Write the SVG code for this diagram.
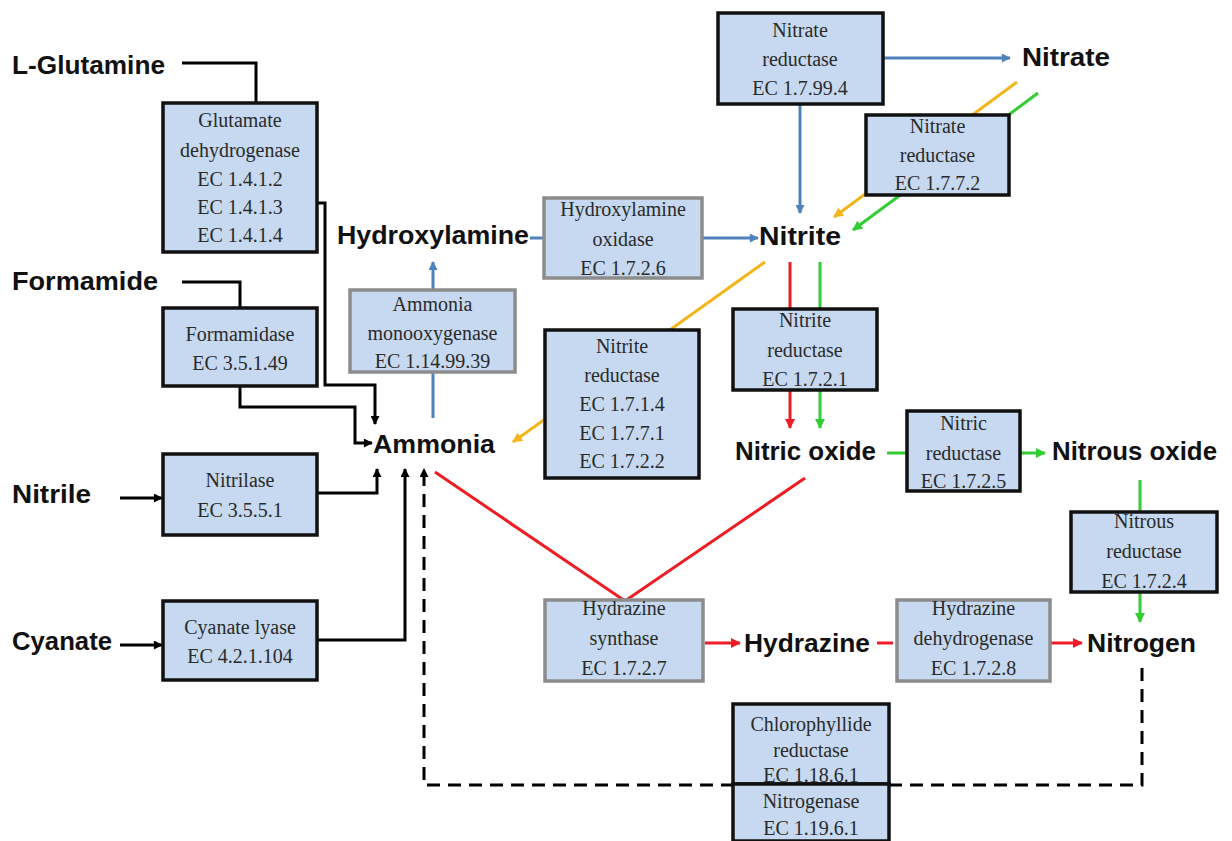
<svg xmlns="http://www.w3.org/2000/svg" width="1232" height="841" viewBox="0 0 1232 841">
<style>
.lbl{font-family:"Liberation Sans",Arial,sans-serif;font-weight:bold;font-size:26px;fill:#111;}
.bt{font-family:"Liberation Serif","Times New Roman",serif;font-size:20px;fill:#2a2a2a;text-anchor:middle;}
.bx{fill:#c6d9f0;stroke:#111;stroke-width:3.5;}
.gx{fill:#c6d9f0;stroke:#8c8c8c;stroke-width:3.5;}
.k{fill:none;stroke:#000;stroke-width:3;}
.kd{fill:none;stroke:#000;stroke-width:3;stroke-dasharray:13 8;}
.b{fill:none;stroke:#4f81bd;stroke-width:3;}
.y{fill:none;stroke:#f2b51c;stroke-width:3;}
.g{fill:none;stroke:#33cc33;stroke-width:3;}
.r{fill:none;stroke:#ee1c24;stroke-width:3;}
</style>
<defs>
<marker id="ak" viewBox="0 0 10 10" refX="9" refY="5" markerWidth="11" markerHeight="9" markerUnits="userSpaceOnUse" orient="auto"><path d="M0,0 L10,5 L0,10 z" fill="#000"/></marker>
<marker id="ab" viewBox="0 0 10 10" refX="9" refY="5" markerWidth="11" markerHeight="9" markerUnits="userSpaceOnUse" orient="auto"><path d="M0,0 L10,5 L0,10 z" fill="#4f81bd"/></marker>
<marker id="ay" viewBox="0 0 10 10" refX="9" refY="5" markerWidth="12" markerHeight="10" markerUnits="userSpaceOnUse" orient="auto"><path d="M0,0 L10,5 L0,10 z" fill="#f2b51c"/></marker>
<marker id="ag" viewBox="0 0 10 10" refX="9" refY="5" markerWidth="12" markerHeight="10" markerUnits="userSpaceOnUse" orient="auto"><path d="M0,0 L10,5 L0,10 z" fill="#33cc33"/></marker>
<marker id="ar" viewBox="0 0 10 10" refX="9" refY="5" markerWidth="12" markerHeight="10" markerUnits="userSpaceOnUse" orient="auto"><path d="M0,0 L10,5 L0,10 z" fill="#ee1c24"/></marker>
</defs>
<rect x="0" y="0" width="1232" height="841" fill="#fff"/>

<g id="connectors">
<path class="k" d="M182,63 H256 V103"/>
<path class="k" d="M317,203 H325 V385 H375 V424" marker-end="url(#ak)"/>
<path class="k" d="M182,282 H240 V308"/>
<path class="k" d="M240,386 V407 H355 V443 H372" marker-end="url(#ak)"/>
<path class="k" d="M120,498 H162" marker-end="url(#ak)"/>
<path class="k" d="M317,493 H377 V469" marker-end="url(#ak)"/>
<path class="k" d="M120,645 H162" marker-end="url(#ak)"/>
<path class="k" d="M317,640 H405 V469" marker-end="url(#ak)"/>
<path class="kd" d="M1142,668 V785 H424 V469" marker-end="url(#ak)"/>
<path class="b" d="M883,58 H1010" marker-end="url(#ab)"/>
<path class="b" d="M800,104 V213" marker-end="url(#ab)"/>
<path class="b" d="M530,238 H544"/>
<path class="b" d="M702,238 H758" marker-end="url(#ab)"/>
<path class="b" d="M433,418 V262" marker-end="url(#ab)"/>
<path class="y" d="M1017,82 L834,217" marker-end="url(#ay)"/>
<path class="y" d="M765,262 L513,442" marker-end="url(#ay)"/>
<path class="g" d="M1038,93 L853,230" marker-end="url(#ag)"/>
<path class="g" d="M820,262 V428" marker-end="url(#ag)"/>
<path class="g" d="M887,453 H907"/>
<path class="g" d="M1020,453 H1045" marker-end="url(#ag)"/>
<path class="g" d="M1140,480 V622" marker-end="url(#ag)"/>
<path class="r" d="M790,262 V428" marker-end="url(#ar)"/>
<path class="r" d="M435,472 L625,601 L805,478"/>
<path class="r" d="M705,643 H740" marker-end="url(#ar)"/>
<path class="r" d="M877,643 H893"/>
<path class="r" d="M1050,643 H1082" marker-end="url(#ar)"/>
</g>

<g id="n-lglutamine"><text class="lbl" x="12" y="74" textLength="153" lengthAdjust="spacingAndGlyphs">L-Glutamine</text></g>
<g id="n-formamide"><text class="lbl" x="12" y="290" textLength="146" lengthAdjust="spacingAndGlyphs">Formamide</text></g>
<g id="n-nitrile"><text class="lbl" x="12" y="503" textLength="79" lengthAdjust="spacingAndGlyphs">Nitrile</text></g>
<g id="n-cyanate"><text class="lbl" x="12" y="650" textLength="100" lengthAdjust="spacingAndGlyphs">Cyanate</text></g>
<g id="n-hydroxylamine"><text class="lbl" x="337" y="244" textLength="192" lengthAdjust="spacingAndGlyphs">Hydroxylamine</text></g>
<g id="n-ammonia"><text class="lbl" x="373" y="453" textLength="122" lengthAdjust="spacingAndGlyphs">Ammonia</text></g>
<g id="n-nitrite"><text class="lbl" x="759" y="245" textLength="82" lengthAdjust="spacingAndGlyphs">Nitrite</text></g>
<g id="n-nitrate"><text class="lbl" x="1022" y="66" textLength="88" lengthAdjust="spacingAndGlyphs">Nitrate</text></g>
<g id="n-nitricoxide"><text class="lbl" x="735" y="460" textLength="141" lengthAdjust="spacingAndGlyphs">Nitric oxide</text></g>
<g id="n-nitrousoxide"><text class="lbl" x="1052" y="460" textLength="165" lengthAdjust="spacingAndGlyphs">Nitrous oxide</text></g>
<g id="n-hydrazine"><text class="lbl" x="744" y="652" textLength="126" lengthAdjust="spacingAndGlyphs">Hydrazine</text></g>
<g id="n-nitrogen"><text class="lbl" x="1087" y="652" textLength="109" lengthAdjust="spacingAndGlyphs">Nitrogen</text></g>

<g id="e-glutamate-dehydrogenase"><rect class="bx" x="163" y="103" width="154" height="149"/>
<text class="bt" x="240" y="127">Glutamate</text><text class="bt" x="240" y="157">dehydrogenase</text><text class="bt" x="240" y="186">EC 1.4.1.2</text><text class="bt" x="240" y="214">EC 1.4.1.3</text><text class="bt" x="240" y="242">EC 1.4.1.4</text></g>
<g id="e-formamidase"><rect class="bx" x="163" y="308" width="154" height="78"/>
<text class="bt" x="240" y="341">Formamidase</text><text class="bt" x="240" y="370">EC 3.5.1.49</text></g>
<g id="e-nitrilase"><rect class="bx" x="163" y="454" width="154" height="81"/>
<text class="bt" x="240" y="487">Nitrilase</text><text class="bt" x="240" y="517">EC 3.5.5.1</text></g>
<g id="e-cyanate-lyase"><rect class="bx" x="163" y="601" width="154" height="79"/>
<text class="bt" x="240" y="634">Cyanate lyase</text><text class="bt" x="240" y="663">EC 4.2.1.104</text></g>
<g id="e-ammonia-monooxygenase"><rect class="gx" x="350" y="290" width="165" height="82"/>
<text class="bt" x="432.5" y="311">Ammonia</text><text class="bt" x="432.5" y="340">monooxygenase</text><text class="bt" x="432.5" y="368">EC 1.14.99.39</text></g>
<g id="e-hydroxylamine-oxidase"><rect class="gx" x="544" y="198" width="158" height="80"/>
<text class="bt" x="623" y="216">Hydroxylamine</text><text class="bt" x="623" y="246">oxidase</text><text class="bt" x="623" y="275">EC 1.7.2.6</text></g>
<g id="e-nitrite-reductase-a"><rect class="bx" x="545" y="330" width="154" height="148"/>
<text class="bt" x="622" y="353">Nitrite</text><text class="bt" x="622" y="382">reductase</text><text class="bt" x="622" y="411">EC 1.7.1.4</text><text class="bt" x="622" y="440">EC 1.7.7.1</text><text class="bt" x="622" y="468">EC 1.7.2.2</text></g>
<g id="e-nitrate-reductase-a"><rect class="bx" x="718" y="13" width="165" height="91"/>
<text class="bt" x="800" y="37">Nitrate</text><text class="bt" x="800" y="66">reductase</text><text class="bt" x="800" y="95">EC 1.7.99.4</text></g>
<g id="e-nitrate-reductase-b"><rect class="bx" x="866" y="115" width="143" height="80"/>
<text class="bt" x="937.5" y="133">Nitrate</text><text class="bt" x="937.5" y="162">reductase</text><text class="bt" x="937.5" y="190">EC 1.7.7.2</text></g>
<g id="e-nitrite-reductase-b"><rect class="bx" x="733" y="309" width="144" height="81"/>
<text class="bt" x="805" y="327">Nitrite</text><text class="bt" x="805" y="357">reductase</text><text class="bt" x="805" y="386">EC 1.7.2.1</text></g>
<g id="e-nitric-reductase"><rect class="bx" x="907" y="411" width="113" height="80"/>
<text class="bt" x="963.5" y="430">Nitric</text><text class="bt" x="963.5" y="460">reductase</text><text class="bt" x="963.5" y="488">EC 1.7.2.5</text></g>
<g id="e-nitrous-reductase"><rect class="bx" x="1071" y="512" width="146" height="80"/>
<text class="bt" x="1144" y="528">Nitrous</text><text class="bt" x="1144" y="558">reductase</text><text class="bt" x="1144" y="588">EC 1.7.2.4</text></g>
<g id="e-hydrazine-synthase"><rect class="gx" x="545" y="600" width="158" height="81"/>
<text class="bt" x="624" y="615">Hydrazine</text><text class="bt" x="624" y="645">synthase</text><text class="bt" x="624" y="675">EC 1.7.2.7</text></g>
<g id="e-hydrazine-dehydrogenase"><rect class="gx" x="897" y="600" width="153" height="81"/>
<text class="bt" x="973.5" y="615">Hydrazine</text><text class="bt" x="973.5" y="645">dehydrogenase</text><text class="bt" x="973.5" y="675">EC 1.7.2.8</text></g>
<g id="e-chlorophyllide-reductase"><rect class="bx" x="733" y="704" width="156" height="80"/>
<text class="bt" x="811" y="731">Chlorophyllide</text><text class="bt" x="811" y="757">reductase</text><text class="bt" x="811" y="782">EC 1.18.6.1</text></g>
<g id="e-nitrogenase"><rect class="bx" x="733" y="784" width="156" height="57"/>
<text class="bt" x="811" y="808">Nitrogenase</text><text class="bt" x="811" y="835">EC 1.19.6.1</text></g>
</svg>
